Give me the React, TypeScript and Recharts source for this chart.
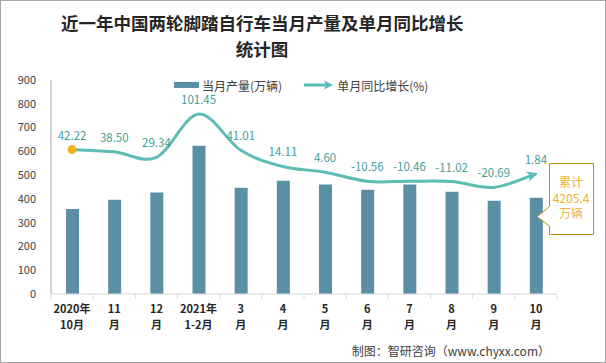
import React from 'react';
import { ComposedChart, Bar, Line, XAxis, YAxis, LabelList } from 'recharts';

const categories = ['2020年\n10月', '11\n月', '12\n月', '2021年\n1-2月', '3\n月', '4\n月', '5\n月', '6\n月', '7\n月', '8\n月', '9\n月', '10\n月'];
const production = [358, 396, 427, 624, 447, 476, 460, 438, 460, 430, 392, 405];
const growth = [42.22, 38.5, 29.34, 101.45, 41.01, 14.11, 4.6, -10.56, -10.46, -11.02, -20.69, 1.84];
const leftTicks = [0, 100, 200, 300, 400, 500, 600, 700, 800, 900];
const titleLines = ['近一年中国两轮脚踏自行车当月产量及单月同比增长', '统计图'];
const seriesNames = ['当月产量(万辆)', '单月同比增长(%)'];
const calloutLines = ['累计', '4205.4', '万辆'];
const sourceText = '制图：智研咨询（www.chyxx.com）';

const BAR_COLOR = '#5B8FA6';
const LINE_COLOR = '#5DBDB4';
const LABEL_COLOR = '#3F9E99';
const FONT = '"Noto Sans CJK SC", "Noto Sans", sans-serif';

const data = categories.map((c, i) => ({ name: c, production: production[i], growth: growth[i] }));

// Excel-like smoothed line (Catmull-Rom through the points)
const catmullRom = (context: any) => {
  let pts: [number, number][] = [];
  return {
    areaStart() {},
    areaEnd() {},
    lineStart() {
      pts = [];
    },
    point(x: number, y: number) {
      pts.push([+x, +y]);
    },
    lineEnd() {
      if (!pts.length) return;
      context.moveTo(pts[0][0], pts[0][1]);
      for (let i = 0; i < pts.length - 1; i++) {
        const p0 = pts[i - 1] || pts[i];
        const p1 = pts[i];
        const p2 = pts[i + 1];
        const p3 = pts[i + 2] || p2;
        context.bezierCurveTo(
          p1[0] + (p2[0] - p0[0]) / 6,
          p1[1] + (p2[1] - p0[1]) / 6,
          p2[0] - (p3[0] - p1[0]) / 6,
          p2[1] - (p3[1] - p1[1]) / 6,
          p2[0],
          p2[1]
        );
      }
    },
  };
};

const GrowthDot = (props: any) => {
  const { cx, cy, index, points } = props;
  if (index === 0) return <circle key="d0" cx={cx} cy={cy} r={4.5} fill="#F5B21D" />;
  if (index === growth.length - 1) {
    let ang = -18;
    if (points && points[index - 1]) {
      const prev = points[index - 1];
      ang = (Math.atan2(cy - prev.y, cx - prev.x) * 180) / Math.PI;
    }
    return (
      <path
        key="arrow"
        d="M2,0 L-9,-5.5 L-6,0 L-9,5.5 Z"
        transform={`translate(${cx},${cy}) rotate(${ang})`}
        fill={LINE_COLOR}
      />
    );
  }
  return <g key={`d${index}`} />;
};

const XTick = (props: any) => {
  const { x, y, payload, index } = props;
  const [l1, l2] = String(payload.value).split('\n');
  const half = payload.offset || 0;
  return (
    <g>
      <line x1={x - half} y1={y} x2={x - half} y2={y + 5} stroke="#D9D9D9" />
      {index === categories.length - 1 && (
        <line x1={x + half} y1={y} x2={x + half} y2={y + 5} stroke="#D9D9D9" />
      )}
      <text x={x} y={y} textAnchor="middle" fontSize={11} fontWeight={700} fill="#262626" fontFamily={FONT}>
        <tspan x={x} dy={19}>{l1}</tspan>
        <tspan x={x} dy={16}>{l2}</tspan>
      </text>
    </g>
  );
};

export default function App() {
  return (
    <div style={{ position: 'absolute', left: 0, top: 0, width: 606, height: 363, background: '#fff', fontFamily: FONT, overflow: 'hidden' }}>
      <div style={{ position: 'absolute', left: 61, top: 10, width: 402, textAlign: 'center', fontSize: 17.5, lineHeight: '26px', fontWeight: 700, color: '#262626', whiteSpace: 'nowrap' }}>
        {titleLines.map((t) => (
          <div key={t}>{t}</div>
        ))}
      </div>
      <ComposedChart width={606} height={363} data={data} margin={{ top: 80, right: 49, bottom: 0, left: 0 }} style={{ position: 'absolute', left: 0, top: 0 }}>
        <YAxis
          yAxisId="left"
          width={51}
          domain={[0, 900]}
          ticks={leftTicks}
          axisLine={{ stroke: '#A6A6A6' }}
          tickLine={false}
          tickSize={0}
          tickMargin={15}
          tick={{ fontSize: 11, fill: '#404040', fontFamily: FONT }}
        />
        <YAxis yAxisId="right" orientation="right" hide domain={[-198, 158]} />
        <XAxis
          dataKey="name"
          height={69}
          interval={0}
          axisLine={{ stroke: '#D9D9D9' }}
          tickLine={false}
          tickSize={0}
          tickMargin={0}
          tick={<XTick />}
        />
        <Bar yAxisId="left" dataKey="production" fill={BAR_COLOR} barSize={13} isAnimationActive={false} />
        <Line
          yAxisId="right"
          dataKey="growth"
          type={catmullRom as any}
          stroke={LINE_COLOR}
          strokeWidth={3}
          dot={GrowthDot}
          activeDot={false}
          isAnimationActive={false}
        >
          <LabelList
            dataKey="growth"
            position="top"
            offset={10}
            formatter={(v: any) => Number(v).toFixed(2)}
            fill={LABEL_COLOR}
            fontSize={11.5}
            fontFamily={FONT}
          />
        </Line>
      </ComposedChart>
      {/* legend */}
      <div style={{ position: 'absolute', left: 174, top: 76, height: 18, display: 'flex', alignItems: 'center', fontSize: 12, color: '#404040', whiteSpace: 'nowrap' }}>
        <span style={{ display: 'inline-block', width: 25, height: 6, background: BAR_COLOR, marginRight: 3 }} />
        <span>{seriesNames[0]}</span>
        <svg width={30} height={10} style={{ marginLeft: 22, marginRight: 3 }}>
          <line x1={0} y1={5} x2={22} y2={5} stroke={LINE_COLOR} strokeWidth={3} />
          <path d="M29,5 L20,0.5 L22,5 L20,9.5 Z" fill={LINE_COLOR} />
        </svg>
        <span>{seriesNames[1]}</span>
      </div>
      {/* callout */}
      <svg width={606} height={363} style={{ position: 'absolute', left: 0, top: 0, pointerEvents: 'none' }}>
        <path
          d="M549.5,163.5 L593.5,163.5 L593.5,234.5 L549.5,234.5 L549.5,226 L537,216.7 L549.5,206.5 Z"
          fill="#fff"
          stroke="#BF8F00"
          strokeWidth={1}
        />
        <text textAnchor="middle" fontSize={12} fill="#F2B233" fontFamily={FONT}>
          {calloutLines.map((t, i) => (
            <tspan key={t} x={571} y={187 + i * 15.5}>
              {t}
            </tspan>
          ))}
        </text>
      </svg>
      <div style={{ position: 'absolute', right: 56, top: 342, fontSize: 12, color: '#404040', whiteSpace: 'nowrap' }}>{sourceText}</div>
      <div style={{ position: 'absolute', left: 0, top: 0, width: 606, height: 363, boxSizing: 'border-box', border: '1px solid #A6A6A6', pointerEvents: 'none' }} />
    </div>
  );
}
